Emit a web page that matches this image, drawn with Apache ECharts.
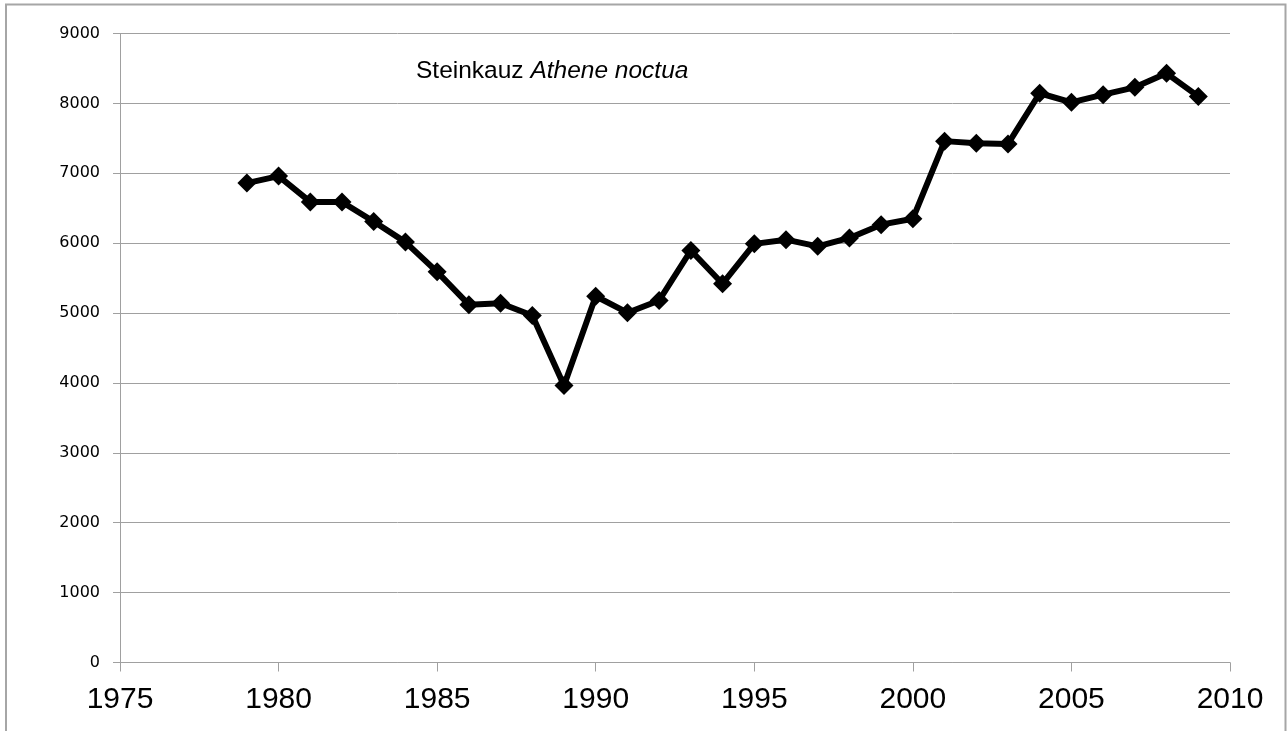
<!DOCTYPE html>
<html>
<head>
<meta charset="utf-8">
<script src="https://cdn.jsdelivr.net/npm/echarts@6/dist/echarts.min.js"></script>
<style>
  html, body { margin: 0; padding: 0; background: #fff; }
  #main { width: 1287px; height: 731px; }
</style>
</head>
<body>
<div id="main"></div>
<script>
// Steinkauz (Athene noctua) - Bestand je Jahr
const years = [1979, 1980, 1981, 1982, 1983, 1984, 1985, 1986, 1987, 1988, 1989,
  1990, 1991, 1992, 1993, 1994, 1995, 1996, 1997, 1998, 1999,
  2000, 2001, 2002, 2003, 2004, 2005, 2006, 2007, 2008, 2009];
const counts = [6860, 6960, 6590, 6590, 6310, 6015, 5590, 5120, 5140, 4965, 3965,
  5240, 5005, 5180, 5895, 5420, 5990, 6050, 5955, 6075, 6265,
  6350, 7460, 7430, 7420, 8145, 8015, 8125, 8230, 8430, 8100];

const xMin = 1975, xMax = 2010, xStep = 5;
const yMin = 0, yMax = 9000, yStep = 1000;

const chart = echarts.init(document.getElementById('main'));

const seriesData = years.map((y, i) => [y, counts[i]]);

chart.setOption({
  animation: false,
  backgroundColor: '#fff',
  graphic: [
    {
      type: 'polyline',
      shape: { points: [[6, 731], [6, 4.5], [1285.5, 4.5], [1285.5, 731]] },
      style: { stroke: '#a6a6a6', lineWidth: 2, fill: null }
    },
    {
      type: 'text',
      left: 416,
      top: 59,
      style: {
        text: '{n|Steinkauz }{i|Athene noctua}',
        rich: {
          n: { fontFamily: 'Liberation Sans', fontSize: 24.5, fill: '#000' },
          i: { fontFamily: 'Liberation Sans', fontSize: 24.5, fontStyle: 'italic', fill: '#000' }
        }
      }
    }
  ],
  grid: { left: 120, right: 57, top: 33.5, bottom: 68.5, containLabel: false },
  xAxis: {
    type: 'value',
    min: xMin,
    max: xMax,
    interval: xStep,
    axisLine: { show: true, lineStyle: { color: '#a0a0a0', width: 1 } },
    axisTick: { show: true, length: 9, lineStyle: { color: '#a0a0a0' } },
    splitLine: { show: false },
    axisLabel: {
      color: '#000',
      fontFamily: 'Liberation Sans',
      fontSize: 30,
      margin: 22,
      formatter: v => String(v)
    }
  },
  yAxis: {
    type: 'value',
    min: yMin,
    max: yMax,
    interval: yStep,
    axisLine: { show: true, lineStyle: { color: '#a0a0a0', width: 1 } },
    axisTick: { show: true, length: 7, lineStyle: { color: '#a0a0a0' } },
    splitLine: { show: true, lineStyle: { color: '#a0a0a0', width: 1 } },
    axisLabel: {
      color: '#000',
      fontFamily: 'DejaVu Sans',
      fontSize: 16,
      margin: 20,
      formatter: v => String(v)
    }
  },
  series: [
    {
      type: 'line',
      data: seriesData,
      symbol: 'diamond',
      symbolSize: 19,
      showAllSymbol: true,
      lineStyle: { color: '#000', width: 6 },
      itemStyle: { color: '#000' }
    }
  ]
});
</script>
</body>
</html>
